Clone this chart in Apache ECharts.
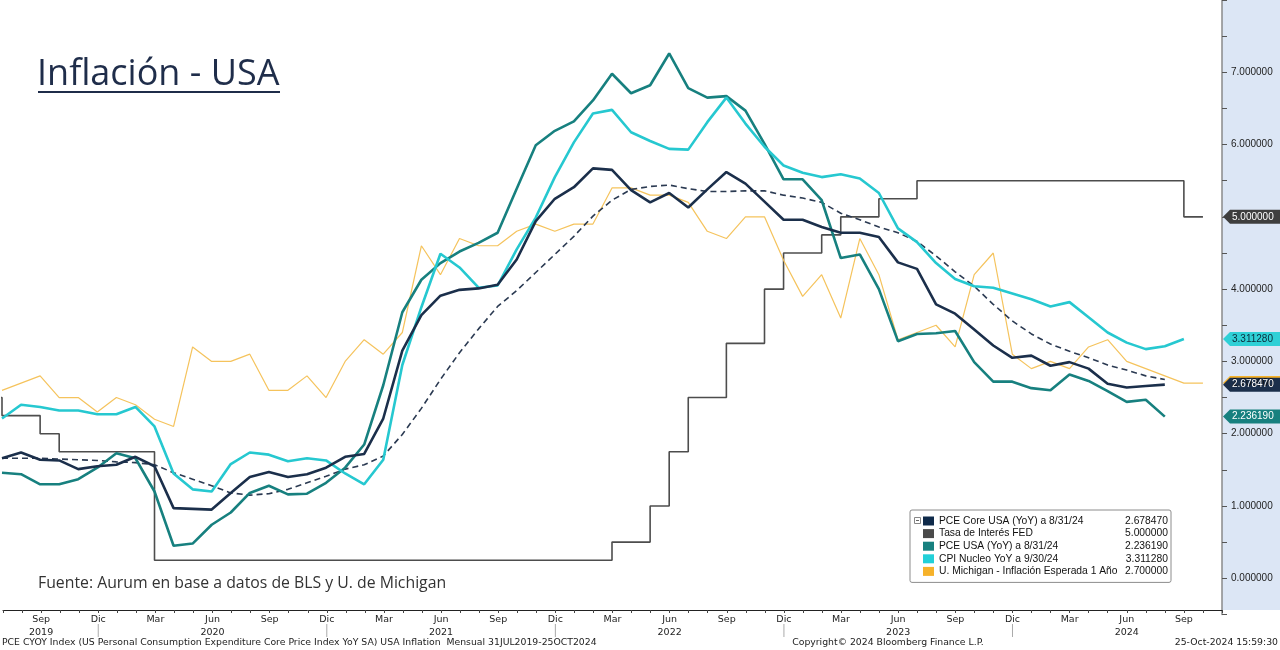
<!DOCTYPE html>
<html><head><meta charset="utf-8">
<script src="https://cdn.jsdelivr.net/npm/echarts@6/dist/echarts.min.js"></script>
<style>html,body{margin:0;padding:0;background:#fff}#c{width:1280px;height:650px}</style>
</head><body><div id="c"></div>
<script>
// ---- data (month index 0 = Jul 2019) ----
const pceCore = [1.66,1.74,1.64,1.63,1.51,1.55,1.57,1.68,1.55,0.97,0.96,0.95,
  1.18,1.40,1.47,1.40,1.44,1.53,1.68,1.72,2.21,3.15,3.64,3.91,
  3.99,4.01,4.06,4.41,4.94,5.25,5.41,5.67,5.65,5.37,5.20,5.33,
  5.13,5.38,5.62,5.46,5.21,4.96,4.96,4.86,4.78,4.78,4.72,4.37,
  4.28,3.79,3.66,3.44,3.22,3.05,3.08,2.94,2.99,2.90,2.69,2.64,2.66,2.67847];
const pce = [1.46,1.44,1.30,1.30,1.37,1.53,1.73,1.66,1.20,0.45,0.48,0.74,
  0.91,1.18,1.28,1.16,1.17,1.32,1.53,1.85,2.67,3.68,4.13,4.36,
  4.52,4.64,4.78,5.39,5.99,6.19,6.32,6.61,6.98,6.71,6.82,7.26,
  6.78,6.65,6.67,6.47,6.01,5.52,5.52,5.23,4.43,4.48,4.00,3.28,
  3.38,3.39,3.42,2.99,2.72,2.72,2.63,2.60,2.82,2.73,2.59,2.44,2.47,2.23619];
const cpiCore = [2.21,2.40,2.37,2.32,2.32,2.27,2.27,2.37,2.10,1.45,1.23,1.20,
  1.58,1.74,1.71,1.62,1.66,1.63,1.45,1.30,1.64,2.95,3.75,4.49,
  4.30,4.02,4.05,4.55,4.99,5.55,6.03,6.43,6.48,6.17,6.05,5.94,
  5.93,6.31,6.65,6.29,5.97,5.71,5.61,5.55,5.59,5.53,5.33,4.84,
  4.65,4.36,4.14,4.04,4.02,3.94,3.86,3.76,3.82,3.61,3.40,3.26,3.17,3.21,3.31128];
const michigan = [2.6,2.7,2.8,2.5,2.5,2.3,2.5,2.4,2.2,2.1,3.2,3.0,
  3.0,3.1,2.6,2.6,2.8,2.5,3.0,3.3,3.1,3.4,4.6,4.2,
  4.7,4.6,4.6,4.8,4.9,4.8,4.9,4.9,5.4,5.4,5.3,5.3,
  5.2,4.8,4.7,5.0,5.0,4.4,3.9,4.2,3.6,4.7,4.2,3.3,
  3.4,3.5,3.2,4.2,4.5,3.1,2.9,3.0,2.9,3.2,3.3,3.0,2.9,2.8,2.7,2.7];
// Fed upper bound, starts Jun 2019 (index -1)
const fedStart = -1;
const fedRate = [2.5,2.25,2.25,2.0,1.75,1.75,1.75,1.75,1.75,
  0.25,0.25,0.25,0.25,0.25,0.25,0.25,0.25,0.25,0.25,0.25,0.25,
  0.25,0.25,0.25,0.25,0.25,0.25,0.25,0.25,0.25,0.25,0.25,0.25,
  0.5,0.5,1.0,1.75,2.5,2.5,3.25,3.25,4.0,4.5,4.5,4.75,5.0,5.0,5.25,5.25,
  5.5,5.5,5.5,5.5,5.5,5.5,5.5,5.5,5.5,5.5,5.5,5.5,5.5,5.5,
  5.0,5.0];
const trend = [1.66,1.66,1.66,1.65,1.64,1.63,1.61,1.60,1.57,1.46,1.37,1.28,
  1.18,1.15,1.17,1.23,1.32,1.41,1.51,1.57,1.69,1.99,2.35,2.75,
  3.12,3.45,3.76,3.98,4.23,4.48,4.73,5.01,5.23,5.38,5.42,5.44,
  5.39,5.35,5.35,5.36,5.36,5.30,5.26,5.20,5.05,4.96,4.86,4.78,
  4.66,4.46,4.24,4.04,3.79,3.56,3.38,3.24,3.14,3.05,2.95,2.88,2.80,2.75];
const xTickIndex = [2,5,8,11,14,17,20,23,26,29,32,35,38,41,44,47,50,53,56,59,62];
const xTickText = ['Sep','Dic','Mar','Jun','Sep','Dic','Mar','Jun','Sep','Dic','Mar','Jun','Sep','Dic','Mar','Jun','Sep','Dic','Mar','Jun','Sep'];
const yearIndex = [2,11,23,35,47,59];
const yearText = ['2019','2020','2021','2022','2023','2024'];
const yearSepIndex = [5,17,29,41,53];
const yTickLabels = [0,1,2,3,4,5,6,7];

const names = ['PCE Core USA (YoY) a 8/31/24','Tasa de Interés FED','PCE USA (YoY) a 8/31/24','CPI Nucleo YoY a 9/30/24','U. Michigan - Inflación Esperada 1 Año'];
const lastVal = {};
lastVal[names[0]] = pceCore[pceCore.length-1];
lastVal[names[1]] = fedRate[fedRate.length-1];
lastVal[names[2]] = pce[pce.length-1];
lastVal[names[3]] = cpiCore[cpiCore.length-1];
lastVal[names[4]] = michigan[michigan.length-1];

const C = {navy:'#1b2f4b', navyIcon:'#0f2a4a', fed:'#4d4d4d', teal:'#17807f', cyan:'#26c8d0', cyanIcon:'#22d0d8', yel:'#f5c35c', yelIcon:'#f6b22a'};
const FF = 'DejaVu Sans';
const FB = 'Liberation Sans';

function pairs(arr, start){ return arr.map((v,i)=>[i+start, v]); }

const chart = echarts.init(document.getElementById('c'));
const option = {
  animation:false,
  backgroundColor:'#ffffff',
  grid:[{left:2,right:58,top:-5,bottom:35.6},{left:2,right:58,top:0,bottom:40}],
  xAxis:[
    {gridIndex:0,type:'value',min:0,max:64,show:false,axisLine:{onZero:false}},
    {gridIndex:1,type:'value',min:0,max:64,interval:1,
     axisLine:{onZero:false,lineStyle:{color:'#222',width:1}},
     axisTick:{length:3,lineStyle:{color:'#444'}},
     splitLine:{show:false},
     axisLabel:{margin:3,fontSize:9.5,lineHeight:13,color:'#222',fontFamily:FF,
       showMinLabel:true,showMaxLabel:true,
       formatter:function(v){const k=xTickIndex.indexOf(v); if(k<0) return ''; const y=yearIndex.indexOf(v); return xTickText[k]+'\n'+(y>=0?yearText[y]:' ');}}}
  ],
  yAxis:[
    {gridIndex:0,type:'value',position:'right',min:-0.5,max:8,interval:0.5,
     axisLine:{show:true,onZero:false,lineStyle:{color:'#8a8a8a',width:1.5}},
     axisTick:{show:true,length:5,lineStyle:{color:'#555'}},
     splitLine:{show:false},
     axisLabel:{margin:9,fontSize:10,color:'#222',fontFamily:FB,
       formatter:function(v){return yTickLabels.indexOf(v)>=0 ? v.toFixed(6) : '';}}},
    {gridIndex:1,type:'value',show:false,axisLine:{onZero:false}}
  ],
  legend:{data:names,orient:'vertical',left:910,top:510,padding:[6,3,6,13],
    itemWidth:11,itemHeight:9,itemGap:2.6,icon:'rect',selectedMode:false,
    backgroundColor:'#fff',borderColor:'#8c8c8c',borderWidth:1,borderRadius:2,
    textStyle:{fontSize:10.3,color:'#111',fontFamily:FB,
      rich:{n:{width:183,fontSize:10.3,fontFamily:FB,color:'#111'},
            v:{width:46,align:'right',fontSize:10.3,fontFamily:FB,color:'#111'}}},
    formatter:function(n){return '{n|'+n+'}{v|'+lastVal[n].toFixed(6)+'}';}},
  series:[
    {type:'line',name:names[1],data:pairs(fedRate,fedStart),step:'end',showSymbol:false,
      lineStyle:{color:C.fed,width:1.6},itemStyle:{color:'#4a4a4a'},z:2},
    {type:'line',name:names[4],data:pairs(michigan,0),showSymbol:false,
      lineStyle:{color:C.yel,width:1.2},itemStyle:{color:C.yelIcon},z:3},
    {type:'line',name:'trend',data:pairs(trend,0),showSymbol:false,
      lineStyle:{color:'#2b3a52',width:1.6,type:[6,4]},itemStyle:{color:'#2b3a52'},z:4},
    {type:'line',name:names[2],data:pairs(pce,0),showSymbol:false,
      lineStyle:{color:C.teal,width:2.6},itemStyle:{color:C.teal},z:5},
    {type:'line',name:names[3],data:pairs(cpiCore,0),showSymbol:false,
      lineStyle:{color:C.cyan,width:2.6},itemStyle:{color:C.cyanIcon},z:6},
    {type:'line',name:names[0],data:pairs(pceCore,0),showSymbol:false,
      lineStyle:{color:C.navy,width:2.6},itemStyle:{color:C.navyIcon},z:7}
  ]
};
chart.setOption(option);

// ---- annotations computed from the axes ----
const g = [];
const axisX = chart.convertToPixel({gridIndex:0},[64,0])[0];
g.push({type:'rect',z:-100,shape:{x:axisX,y:0,width:1280-axisX,height:610},style:{fill:'#dce6f5'}});
function tag(val, bg, fg){
  const y = chart.convertToPixel({yAxisIndex:0}, val);
  const x = axisX+1;
  g.push({type:'polygon',z:100,shape:{points:[[x,y],[x+7,y-7],[1280,y-7],[1280,y+7],[x+7,y+7]]},style:{fill:bg}});
  g.push({type:'text',z:101,x:x+9,y:y,style:{text:val.toFixed(6),fill:fg,font:'10px '+FB,verticalAlign:'middle'}});
}
tag(fedRate[fedRate.length-1],'#3e3e3e','#fff');
tag(cpiCore[cpiCore.length-1],'#2fd0d6','#0b2a3a');
tag(michigan[michigan.length-1],'#f6b22a','#111');
tag(pceCore[pceCore.length-1],C.navy,'#fff');
tag(pce[pce.length-1],C.teal,'#fff');
yearSepIndex.forEach(function(i){
  const x = chart.convertToPixel({xAxisIndex:1}, i);
  g.push({type:'line',z:10,shape:{x1:x,y1:624,x2:x,y2:637},style:{stroke:'#aaa',lineWidth:1}});
});
g.push({type:'text',x:37,y:75,style:{text:'Inflación - USA',fill:'#1f2d4a',font:'36px "Open Sans"',verticalAlign:'middle'}});
g.push({type:'line',shape:{x1:38,y1:92,x2:280,y2:92},style:{stroke:'#1f2d4a',lineWidth:2}});
g.push({type:'text',x:38,y:583,style:{text:'Fuente: Aurum en base a datos de BLS y U. de Michigan',fill:'#333',font:'15.8px "Open Sans"',verticalAlign:'middle'}});
g.push({type:'rect',z:50,shape:{x:914.5,y:517.5,width:6,height:6},style:{fill:'#fff',stroke:'#888',lineWidth:1}});
g.push({type:'line',z:51,shape:{x1:916,y1:520.5,x2:919,y2:520.5},style:{stroke:'#666',lineWidth:1}});
g.push({type:'text',x:2,y:643,style:{text:'PCE CYOY Index (US Personal Consumption Expenditure Core Price Index YoY SA) USA Inflation  Mensual 31JUL2019-25OCT2024',fill:'#222',font:'9.3px '+FF,verticalAlign:'middle'}});
g.push({type:'text',x:888,y:643,style:{text:'Copyright© 2024 Bloomberg Finance L.P.',fill:'#222',font:'9.3px '+FF,verticalAlign:'middle',align:'center'}});
g.push({type:'text',x:1278,y:643,style:{text:'25-Oct-2024 15:59:30',fill:'#222',font:'9.3px '+FF,verticalAlign:'middle',align:'right'}});
chart.setOption({graphic:{elements:g}});
</script></body></html>
